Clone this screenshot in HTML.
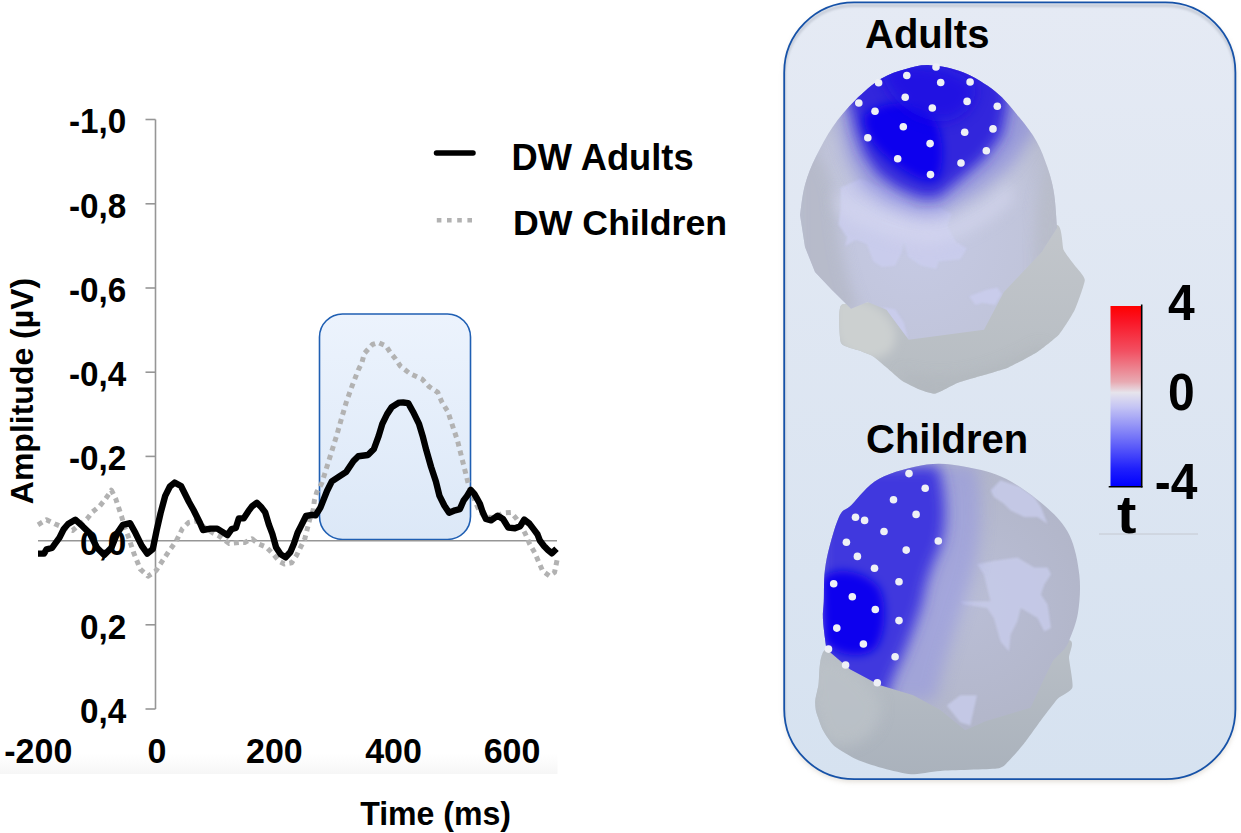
<!DOCTYPE html>
<html><head><meta charset="utf-8"><title>ERP figure</title>
<style>html,body{margin:0;padding:0;background:#fff;}body{width:1241px;height:833px;overflow:hidden;}svg{display:block;}</style>
</head><body>
<svg width="1241" height="833" viewBox="0 0 1241 833">
<defs>
<linearGradient id="boxg" x1="0" y1="0" x2="0" y2="1"><stop offset="0" stop-color="#ecf3fd"/><stop offset="1" stop-color="#dce8f7"/></linearGradient>
<linearGradient id="panelg" x1="0" y1="0" x2="0" y2="1"><stop offset="0" stop-color="#e5eaf4"/><stop offset="1" stop-color="#d6e2f0"/></linearGradient>
<linearGradient id="cbar" x1="0" y1="0" x2="0" y2="1">
<stop offset="0" stop-color="#ff0000"/><stop offset="0.08" stop-color="#fa1424"/><stop offset="0.25" stop-color="#f25062"/><stop offset="0.42" stop-color="#e8aab2"/><stop offset="0.48" stop-color="#e6e4ec"/><stop offset="0.56" stop-color="#c4c4f4"/><stop offset="0.72" stop-color="#7878f8"/><stop offset="0.9" stop-color="#2020fc"/><stop offset="1" stop-color="#0000ff"/></linearGradient>
<linearGradient id="xband" x1="0" y1="0" x2="0" y2="1"><stop offset="0" stop-color="#ffffff"/><stop offset="1" stop-color="#f6f6f6"/></linearGradient>
<filter id="blur6" x="-30%" y="-30%" width="160%" height="160%"><feGaussianBlur stdDeviation="7"/></filter>
<filter id="blur5" x="-30%" y="-30%" width="160%" height="160%"><feGaussianBlur stdDeviation="5"/></filter>
<filter id="blur7" x="-30%" y="-30%" width="160%" height="160%"><feGaussianBlur stdDeviation="8"/></filter>
<filter id="blur1" x="-30%" y="-30%" width="160%" height="160%"><feGaussianBlur stdDeviation="1"/></filter>
<filter id="blur3" x="-30%" y="-30%" width="160%" height="160%"><feGaussianBlur stdDeviation="3"/></filter>
<filter id="shadow" x="-10%" y="-10%" width="120%" height="120%"><feGaussianBlur stdDeviation="2.5"/></filter>
<radialGradient id="capA" cx="0.45" cy="0.6" r="0.6"><stop offset="0" stop-color="#c6cae4"/><stop offset="0.7" stop-color="#c0c4da"/><stop offset="1" stop-color="#b6bacb"/></radialGradient>
<linearGradient id="neckA" x1="0" y1="0" x2="0" y2="1"><stop offset="0" stop-color="#c2c6cb"/><stop offset="1" stop-color="#b6bcc2"/></linearGradient>
<radialGradient id="capC" cx="0.55" cy="0.5" r="0.6"><stop offset="0" stop-color="#babed6"/><stop offset="1" stop-color="#b0b4c6"/></radialGradient>
<linearGradient id="neckC" x1="0" y1="0" x2="0" y2="1"><stop offset="0" stop-color="#b9bfc6"/><stop offset="1" stop-color="#aab2bc"/></linearGradient>
<clipPath id="capAclip"><path d="M800.0,215.0 C800.8,209.9 802.3,194.4 805.0,184.7 C807.7,175.0 811.3,166.3 816.0,156.6 C820.7,146.9 826.5,135.8 833.0,126.4 C839.5,117.0 847.0,108.3 855.0,100.4 C863.0,92.5 872.5,84.0 881.0,78.8 C889.5,73.6 897.8,71.3 906.0,69.0 C914.2,66.7 920.5,64.7 930.0,65.2 C939.5,65.8 952.1,67.9 963.0,72.3 C973.9,76.7 986.2,84.2 995.6,91.7 C1005.0,99.2 1012.6,109.3 1019.4,117.6 C1026.2,125.9 1031.9,133.1 1036.6,141.4 C1041.3,149.7 1044.5,158.7 1047.4,167.3 C1050.3,175.9 1052.4,183.1 1054.0,193.2 C1055.6,203.3 1056.5,222.0 1057.0,227.8 L1041.6,252 L1003.9,292.1 L984,329.8 L908.6,339.7 L886.5,309.8 L867.6,302 L851,308.7 L832,290 L815,272 L805,247 Z"/></clipPath>
<clipPath id="capCclip"><path d="M826.4,649.0 C825.8,644.2 823.4,627.9 823.0,620.0 C822.6,612.1 823.3,611.0 823.8,601.6 C824.3,592.2 823.3,577.7 825.8,563.7 C828.3,549.7 834.5,527.4 838.8,517.6 C843.1,507.8 844.8,511.5 851.5,505.0 C858.2,498.5 866.7,485.6 879.2,478.8 C891.8,472.1 912.3,466.5 926.8,464.5 C941.3,462.5 953.2,464.5 966.4,466.9 C979.6,469.3 992.8,472.2 1006.0,478.8 C1019.2,485.4 1035.0,497.1 1045.6,506.5 C1056.2,515.9 1063.8,523.5 1069.4,535.0 C1075.0,546.5 1078.0,562.3 1079.4,575.3 C1080.8,588.2 1079.7,601.9 1078.0,612.7 C1076.3,623.5 1071.7,634.0 1069.4,640.0 C1067.2,646.0 1065.3,647.5 1064.5,649.0 L1053.2,660.3 L1044.2,678.4 L1030.6,707.7 L985.5,721.2 L965.2,730.3 L940.4,710 L913.3,695.3 L879.5,685 L850,669.3 Z"/></clipPath>
</defs>
<rect width="1241" height="833" fill="#ffffff"/>
<rect x="0" y="754" width="557.5" height="20" fill="url(#xband)"/>
<rect x="319.5" y="314" width="151" height="225.5" rx="23" ry="23" fill="url(#boxg)" stroke="#1f5fb3" stroke-width="1.6"/>
<line x1="38" y1="540.7" x2="557" y2="540.7" stroke="#969696" stroke-width="1.6"/>
<line x1="155.5" y1="119.5" x2="155.5" y2="709" stroke="#969696" stroke-width="1.6"/>
<line x1="145.5" y1="119.5" x2="155.5" y2="119.5" stroke="#969696" stroke-width="1.6"/>
<line x1="145.5" y1="203.8" x2="155.5" y2="203.8" stroke="#969696" stroke-width="1.6"/>
<line x1="145.5" y1="288" x2="155.5" y2="288" stroke="#969696" stroke-width="1.6"/>
<line x1="145.5" y1="372.2" x2="155.5" y2="372.2" stroke="#969696" stroke-width="1.6"/>
<line x1="145.5" y1="456.4" x2="155.5" y2="456.4" stroke="#969696" stroke-width="1.6"/>
<line x1="145.5" y1="540.6" x2="155.5" y2="540.6" stroke="#969696" stroke-width="1.6"/>
<line x1="145.5" y1="624.8" x2="155.5" y2="624.8" stroke="#969696" stroke-width="1.6"/>
<line x1="145.5" y1="709" x2="155.5" y2="709" stroke="#969696" stroke-width="1.6"/>
<polyline points="38.0,524.8 46.5,519.7 55.2,524.0 63.8,527.6 72.5,530.5 78.2,525.5 86.9,519.0 92.6,511.8 99.8,506.0 105.6,498.8 111.4,490.2 115.7,498.8 118.6,507.5 121.5,516.1 124.3,526.2 128.7,537.7 134.0,553.6 140.3,569.2 148.1,576.2 155.9,570.8 162.1,561.4 168.4,552.0 176.2,541.1 182.4,528.6 188.6,522.4 196.4,520.8 204.2,527.1 213.6,533.3 219.8,536.4 229.2,543.6 240.0,542.4 244.8,542.4 252.0,538.8 258.0,543.6 266.4,547.2 272.4,553.2 279.6,561.6 284.4,564.0 291.6,562.8 296.4,555.6 300.0,548.4 304.8,538.8 307.2,529.2 309.6,519.6 313.2,510.0 314.4,500.4 316.8,492.0 321.6,483.6 324.6,474.2 330.6,455.0 336.6,435.8 341.4,418.9 346.3,402.1 352.3,385.3 358.3,370.0 361.9,362.7 364.3,353.5 372.5,344.4 378.3,342.5 385.9,345.9 390.7,353.0 395.5,358.8 400.3,366.0 410.0,373.7 422.0,379.0 429.2,386.7 437.8,392.4 441.9,402.1 447.9,411.7 452.7,426.2 457.5,440.6 461.1,455.0 464.7,469.4 468.3,483.8 471.9,493.5 477.9,507.9 484.5,517.0 495.1,517.6 503.0,513.0 511.0,512.4 516.2,518.3 521.5,526.2 525.5,534.2 529.4,543.4 534.7,552.7 538.7,561.9 542.7,571.1 549.3,575.8 554.5,572.5 557.2,559.3" fill="none" stroke="#b2b2b2" stroke-width="5" stroke-dasharray="5 4.4" stroke-linejoin="round"/>
<polyline points="38.0,553.6 44.0,553.6 46.5,549.3 52.0,548.0 55.2,543.5 59.5,537.7 63.8,529.0 68.1,524.0 75.3,519.7 82.5,526.2 89.8,533.4 97.0,547.8 104.2,555.0 111.4,547.8 117.1,533.4 122.9,524.8 130.1,523.2 135.6,533.3 141.8,545.8 147.3,553.6 152.8,549.0 156.7,530.2 160.6,513.0 165.2,495.9 169.9,486.5 174.6,482.6 181.0,486.0 184.5,493.0 189.0,502.0 193.5,510.0 197.0,517.0 200.0,523.0 203.0,530.0 210.5,528.6 217.2,528.6 222.0,531.6 227.4,535.2 231.6,529.2 235.8,528.0 238.8,518.4 243.6,518.4 248.4,511.2 252.0,506.4 256.8,502.8 261.6,507.6 265.2,512.4 268.8,524.4 272.4,534.0 276.0,547.2 280.8,554.4 285.6,557.4 290.4,552.0 294.0,543.6 297.6,532.8 301.2,525.6 306.0,516.0 312.0,514.8 315.6,515.4 320.4,507.6 322.2,503.1 327.0,491.0 331.8,481.4 339.0,476.6 346.3,471.8 353.5,461.0 358.3,456.2 367.9,455.0 373.9,449.0 378.7,435.8 382.3,423.8 387.1,414.1 391.9,406.9 399.1,402.6 403.2,402.5 408.2,403.1 413.0,411.7 419.0,423.8 422.6,435.8 426.3,450.2 431.1,467.0 435.9,481.4 439.5,495.9 444.3,505.5 449.1,512.7 455.1,510.3 459.9,509.1 463.5,500.7 467.1,495.9 470.7,489.9 474.3,493.9 476.6,497.9 479.9,503.8 482.5,511.7 485.9,519.0 491.1,520.3 497.7,515.7 503.0,519.0 508.3,527.6 514.9,528.2 520.2,526.2 524.2,519.6 529.4,523.6 533.4,528.9 537.4,534.2 540.0,540.8 544.0,546.0 547.9,550.0 551.9,553.3 556.5,548.7" fill="none" stroke="#000" stroke-width="6.4" stroke-linejoin="round" stroke-linecap="butt"/>
<g font-family='"Liberation Sans", sans-serif' font-weight="bold" fill="#000">
<text transform="translate(126.3,133.4) scale(0.98,1.04)" font-size="34" text-anchor="end">-1,0</text>
<text transform="translate(126.3,217.70000000000002) scale(0.98,1.04)" font-size="34" text-anchor="end">-0,8</text>
<text transform="translate(126.3,301.9) scale(0.98,1.04)" font-size="34" text-anchor="end">-0,6</text>
<text transform="translate(126.3,386.09999999999997) scale(0.98,1.04)" font-size="34" text-anchor="end">-0,4</text>
<text transform="translate(126.3,470.29999999999995) scale(0.98,1.04)" font-size="34" text-anchor="end">-0,2</text>
<text transform="translate(126.3,554.5) scale(0.98,1.04)" font-size="34" text-anchor="end">0,0</text>
<text transform="translate(126.3,638.6999999999999) scale(0.98,1.04)" font-size="34" text-anchor="end">0,2</text>
<text transform="translate(126.3,722.9) scale(0.98,1.04)" font-size="34" text-anchor="end">0,4</text>
<text transform="translate(38.3,763.3) scale(1.0,1.04)" font-size="34" text-anchor="middle">-200</text>
<text transform="translate(157,763.3) scale(1.0,1.04)" font-size="34" text-anchor="middle">0</text>
<text transform="translate(274.4,763.3) scale(1.0,1.04)" font-size="34" text-anchor="middle">200</text>
<text transform="translate(393.5,763.3) scale(1.0,1.04)" font-size="34" text-anchor="middle">400</text>
<text transform="translate(512,763.3) scale(1.0,1.04)" font-size="34" text-anchor="middle">600</text>
<text transform="translate(435.6,824.7) scale(0.987,1.04)" font-size="32.5" text-anchor="middle">Time (ms)</text>
<text transform="translate(33.2,391) rotate(-90)" font-size="32" text-anchor="middle">Amplitude (µV)</text>
<text transform="translate(511.5,170) scale(1.0,1.0)" font-size="36.3" text-anchor="start">DW Adults</text>
<text transform="translate(513,235) scale(1.0,1.0)" font-size="35.7" text-anchor="start">DW Children</text>
</g>
<line x1="436.5" y1="153" x2="473" y2="153" stroke="#000" stroke-width="5.5" stroke-linecap="round"/>
<line x1="436.8" y1="220.3" x2="473" y2="220.3" stroke="#b2b2b2" stroke-width="4.6" stroke-dasharray="4.6 5.6"/>
<rect x="784.2" y="5" width="452" height="777" rx="70" ry="70" fill="#c8c0b4" opacity="0.5" filter="url(#shadow)"/>
<rect x="784.2" y="2.4" width="451.2" height="776.8" rx="70" ry="70" fill="url(#panelg)"/>
<clipPath id="panelclip"><rect x="784.2" y="2.4" width="451.2" height="776.8" rx="70" ry="70"/></clipPath>
<g clip-path="url(#panelclip)"><rect x="784.2" y="5.6" width="451.2" height="790" rx="70" ry="70" fill="none" stroke="#c6ccd8" stroke-width="3" filter="url(#blur1)"/></g>
<rect x="784.2" y="2.4" width="451.2" height="776.8" rx="70" ry="70" fill="none" stroke="#1652a8" stroke-width="1.8"/>
<path d="M841.0,305.4 C837.8,309.0 839.4,339.2 841.0,343.0 C842.6,346.8 857.3,349.7 860.0,350.8 C862.7,351.9 871.0,355.0 873.2,356.4 C875.4,357.8 884.1,365.4 886.5,367.4 C888.9,369.4 899.2,378.8 902.0,380.7 C904.8,382.6 916.9,388.5 919.7,389.6 C922.5,390.7 932.1,394.2 935.2,393.6 C938.3,393.1 953.7,384.4 957.4,383.0 C961.1,381.6 975.3,377.6 979.5,376.3 C983.7,375.0 1003.5,369.4 1008.3,367.4 C1013.1,365.4 1033.0,354.8 1037.2,352.0 C1041.5,349.2 1056.2,337.7 1059.3,334.2 C1062.4,330.7 1072.7,314.3 1074.8,309.8 C1076.9,305.3 1084.8,283.7 1084.8,280.0 C1084.8,276.3 1076.6,268.0 1074.8,265.5 C1073.0,263.0 1065.2,253.4 1063.7,250.0 C1062.2,246.6 1062.3,225.0 1057.0,225.0 C1051.7,225.0 1014.8,243.8 1000.0,250.0 C985.2,256.2 893.2,295.4 880.0,300.0 C866.8,304.6 844.2,301.8 841.0,305.4 Z" fill="url(#neckA)"/>
<clipPath id="neckAclip"><path d="M841.0,305.4 C837.8,309.0 839.4,339.2 841.0,343.0 C842.6,346.8 857.3,349.7 860.0,350.8 C862.7,351.9 871.0,355.0 873.2,356.4 C875.4,357.8 884.1,365.4 886.5,367.4 C888.9,369.4 899.2,378.8 902.0,380.7 C904.8,382.6 916.9,388.5 919.7,389.6 C922.5,390.7 932.1,394.2 935.2,393.6 C938.3,393.1 953.7,384.4 957.4,383.0 C961.1,381.6 975.3,377.6 979.5,376.3 C983.7,375.0 1003.5,369.4 1008.3,367.4 C1013.1,365.4 1033.0,354.8 1037.2,352.0 C1041.5,349.2 1056.2,337.7 1059.3,334.2 C1062.4,330.7 1072.7,314.3 1074.8,309.8 C1076.9,305.3 1084.8,283.7 1084.8,280.0 C1084.8,276.3 1076.6,268.0 1074.8,265.5 C1073.0,263.0 1065.2,253.4 1063.7,250.0 C1062.2,246.6 1062.3,225.0 1057.0,225.0 C1051.7,225.0 1014.8,243.8 1000.0,250.0 C985.2,256.2 893.2,295.4 880.0,300.0 C866.8,304.6 844.2,301.8 841.0,305.4 Z"/></clipPath>
<g clip-path="url(#neckAclip)">
<path d="M835,300 C860,295 885,305 895,330 C898,350 885,362 860,358 C840,352 835,340 835,320 Z" fill="#ccd0d0" filter="url(#blur5)"/>
<path d="M900,370 C940,385 990,375 1040,345 L1060,360 L920,410 Z" fill="#b0b6bc" opacity="0.6" filter="url(#blur6)"/>
</g>
<g clip-path="url(#capAclip)">
<rect x="790" y="55" width="280" height="300" fill="url(#capA)"/>
<path d="M795,150 C810,140 830,160 835,200 C838,240 845,280 860,310 L795,320 Z" fill="#b4b8c6" opacity="0.8" filter="url(#blur6)"/>
<path d="M1060,150 C1040,170 1030,220 1035,300 L1070,300 Z" fill="#b8bcc8" opacity="0.8" filter="url(#blur6)"/>
<polygon points="840.7,187.4 860.3,178.7 892.9,191.8 916.8,209.2 938.6,207 951.7,213.5 947.3,226.6 956,241.8 966.9,248.4 960.4,259.2 938.6,261.4 936.4,269 921.2,265.8 908.1,257.1 903.8,241.8 901.6,252.7 895.1,265.8 882,266.9 873.3,261.4 866.8,244 855.9,239.7 845,246.2 847.2,237.5 838.5,224.4 840.7,209.2" fill="#cacdee" opacity="0.85" filter="url(#blur1)"/>
<polygon points="969.1,296.3 986.5,289.7 997.4,287.5 1001.7,294.1 995.2,305 982.1,302.8 975.6,305" fill="#cacdee" opacity="0.85" filter="url(#blur1)"/>
<polygon points="882,307.1 895.1,309.3 903.8,322.4 908.1,338.7 897.3,326.7" fill="#cacdee" opacity="0.85" filter="url(#blur1)"/>
<path d="M835,190 C860,205 900,218 935,224 C960,218 990,200 1010,180 L1015,200 C990,225 960,240 930,245 C890,240 850,225 835,210 Z" fill="#d6d8f0" opacity="0.55" filter="url(#blur6)"/>
<path d="M835,60 L1030,60 L1035,130 L1012,165 L978,192 L940,214 L915,214 L885,202 L862,186 L848,160 L840,130 Z" fill="#8282dc" opacity="0.6" filter="url(#blur7)"/>
<path d="M848,55 L1005,55 L1008,105 L1002,135 L985,158 L962,178 L938,198 L920,198 L897,188 L878,174 L864,154 L856,132 L851,110 L845,90 Z" fill="#3228dc" filter="url(#blur6)"/>
<path d="M864,116 C878,102 905,98 928,110 C944,126 946,160 938,178 C925,186 905,172 888,158 C872,145 864,130 864,116 Z" fill="#0800ee" filter="url(#blur5)"/>
<path d="M880,68 C915,58 955,66 975,85 C978,105 962,120 940,122 C912,118 888,100 880,68 Z" fill="#1c10e4" opacity="0.75" filter="url(#blur6)"/>
</g>
<circle cx="906.8" cy="75.5" r="3.8" fill="#eef0f6"/>
<circle cx="940.7" cy="82.5" r="3.8" fill="#eef0f6"/>
<circle cx="905.2" cy="97.2" r="3.8" fill="#eef0f6"/>
<circle cx="858.8" cy="103" r="3.8" fill="#eef0f6"/>
<circle cx="875" cy="111.2" r="3.8" fill="#eef0f6"/>
<circle cx="932.3" cy="108" r="3.8" fill="#eef0f6"/>
<circle cx="903.3" cy="126.8" r="3.8" fill="#eef0f6"/>
<circle cx="867.8" cy="137.8" r="3.8" fill="#eef0f6"/>
<circle cx="930.1" cy="143.6" r="3.8" fill="#eef0f6"/>
<circle cx="897.7" cy="158.8" r="3.8" fill="#eef0f6"/>
<circle cx="930.5" cy="174.6" r="3.8" fill="#eef0f6"/>
<circle cx="878.6" cy="82.7" r="3.8" fill="#eef0f6"/>
<circle cx="936" cy="67" r="3.8" fill="#eef0f6"/>
<circle cx="970.1" cy="82" r="3.8" fill="#eef0f6"/>
<circle cx="967.1" cy="101.4" r="3.8" fill="#eef0f6"/>
<circle cx="997.3" cy="106.2" r="3.8" fill="#eef0f6"/>
<circle cx="964.7" cy="132.3" r="3.8" fill="#eef0f6"/>
<circle cx="993" cy="128.9" r="3.8" fill="#eef0f6"/>
<circle cx="986.3" cy="150.7" r="3.8" fill="#eef0f6"/>
<circle cx="961" cy="163" r="3.8" fill="#eef0f6"/>
<path d="M826.4,649.0 C818.2,651.5 819.6,679.8 818.5,685.0 C817.4,690.2 815.4,698.3 815.2,701.0 C815.0,703.7 815.5,709.3 816.3,712.2 C817.1,715.1 821.2,726.9 823.0,730.3 C824.8,733.7 830.9,743.1 834.3,746.0 C837.7,748.9 851.9,757.3 856.9,759.6 C861.9,761.9 878.6,767.1 884.0,768.6 C889.4,770.1 905.4,774.1 911.0,774.3 C916.6,774.5 931.8,771.5 940.4,770.9 C949.0,770.3 990.0,769.5 996.8,768.6 C1003.6,767.7 1005.3,764.3 1008.0,761.8 C1010.7,759.3 1020.5,748.1 1023.9,743.8 C1027.3,739.5 1038.5,723.5 1041.9,719.0 C1045.3,714.5 1054.7,701.9 1057.7,698.7 C1060.8,695.5 1071.3,691.5 1072.4,687.4 C1073.5,683.3 1069.3,662.7 1069.0,658.0 C1068.7,653.3 1075.9,640.8 1069.0,640.0 C1062.1,639.2 1016.9,648.0 1000.0,650.0 C983.1,652.0 917.4,660.1 900.0,660.0 C882.6,659.9 834.5,646.5 826.4,649.0 Z" fill="url(#neckC)"/>
<clipPath id="neckCclip"><path d="M826.4,649.0 C818.2,651.5 819.6,679.8 818.5,685.0 C817.4,690.2 815.4,698.3 815.2,701.0 C815.0,703.7 815.5,709.3 816.3,712.2 C817.1,715.1 821.2,726.9 823.0,730.3 C824.8,733.7 830.9,743.1 834.3,746.0 C837.7,748.9 851.9,757.3 856.9,759.6 C861.9,761.9 878.6,767.1 884.0,768.6 C889.4,770.1 905.4,774.1 911.0,774.3 C916.6,774.5 931.8,771.5 940.4,770.9 C949.0,770.3 990.0,769.5 996.8,768.6 C1003.6,767.7 1005.3,764.3 1008.0,761.8 C1010.7,759.3 1020.5,748.1 1023.9,743.8 C1027.3,739.5 1038.5,723.5 1041.9,719.0 C1045.3,714.5 1054.7,701.9 1057.7,698.7 C1060.8,695.5 1071.3,691.5 1072.4,687.4 C1073.5,683.3 1069.3,662.7 1069.0,658.0 C1068.7,653.3 1075.9,640.8 1069.0,640.0 C1062.1,639.2 1016.9,648.0 1000.0,650.0 C983.1,652.0 917.4,660.1 900.0,660.0 C882.6,659.9 834.5,646.5 826.4,649.0 Z"/></clipPath>
<g clip-path="url(#neckCclip)">
<path d="M812,660 C830,650 860,670 880,700 C885,730 860,750 830,745 C815,730 810,700 812,660 Z" fill="#bcc2c8" opacity="0.8" filter="url(#blur6)"/>
</g>
<g clip-path="url(#capCclip)">
<rect x="815" y="460" width="270" height="280" fill="url(#capC)"/>
<polygon points="977,564.2 993.8,560.8 1017.4,557.5 1034.2,567.6 1047.6,567.6 1051,574.3 1044.3,584.4 1040.9,594.5 1047.6,604.5 1051,628 1044.3,631.4 1037.5,618 1020.7,607.9 1017.4,621.3 1010.6,634.8 1009,651.6 1000.5,641.5 993.8,618 987.1,607.9 963.5,604.5 960.2,601.2 990.5,601.2 987.1,587.7 983.7,574.3" fill="#c6cae8" opacity="0.9" filter="url(#blur1)"/>
<polygon points="990.5,490.3 1000.5,480.2 1020.7,486.9 1034.2,497 1040.9,507 1047.6,523.9 1037.5,517.1 1024.1,517.1 1010.6,510.4 1003.9,503.7 993.8,497" fill="#c6cae8" opacity="0.9" filter="url(#blur1)"/>
<polygon points="946.7,705.4 960.2,695.3 977,695.3 970.3,725.5 960.2,722.2" fill="#c6cae8" opacity="0.9" filter="url(#blur1)"/>
<path d="M815,465 L975,465 C985,500 980,545 972,575 C960,615 945,655 935,700 L815,700 Z" fill="#9496e0" opacity="0.6" filter="url(#blur7)"/>
<path d="M820,468 L938,466 C948,500 946,530 940,548 C932,565 926,580 922,604 C915,625 908,644 902,658 C896,670 890,684 886,700 L820,700 Z" fill="#4038de" filter="url(#blur6)"/>
<path d="M822,578 C836,566 862,570 878,586 C888,602 886,632 876,648 C862,660 838,656 824,642 Z" fill="#0c06ee" filter="url(#blur5)"/>
</g>
<circle cx="909" cy="473.6" r="3.8" fill="#eef0f6"/>
<circle cx="925.2" cy="488.3" r="3.8" fill="#eef0f6"/>
<circle cx="893.5" cy="499.8" r="3.8" fill="#eef0f6"/>
<circle cx="916.1" cy="514.4" r="3.8" fill="#eef0f6"/>
<circle cx="855.5" cy="517.2" r="3.8" fill="#eef0f6"/>
<circle cx="864.6" cy="520.4" r="3.8" fill="#eef0f6"/>
<circle cx="884" cy="531.5" r="3.8" fill="#eef0f6"/>
<circle cx="938.3" cy="541" r="3.8" fill="#eef0f6"/>
<circle cx="846.4" cy="542.2" r="3.8" fill="#eef0f6"/>
<circle cx="906.2" cy="550.1" r="3.8" fill="#eef0f6"/>
<circle cx="857.4" cy="556.4" r="3.8" fill="#eef0f6"/>
<circle cx="874.5" cy="568.3" r="3.8" fill="#eef0f6"/>
<circle cx="899" cy="581.8" r="3.8" fill="#eef0f6"/>
<circle cx="833.7" cy="583.8" r="3.8" fill="#eef0f6"/>
<circle cx="852.3" cy="596.8" r="3.8" fill="#eef0f6"/>
<circle cx="875.3" cy="609.5" r="3.8" fill="#eef0f6"/>
<circle cx="899" cy="620.6" r="3.8" fill="#eef0f6"/>
<circle cx="836.8" cy="628.1" r="3.8" fill="#eef0f6"/>
<circle cx="863.4" cy="644" r="3.8" fill="#eef0f6"/>
<circle cx="895.1" cy="656.7" r="3.8" fill="#eef0f6"/>
<circle cx="828.5" cy="649.1" r="3.8" fill="#eef0f6"/>
<circle cx="845.6" cy="665" r="3.8" fill="#eef0f6"/>
<circle cx="877.3" cy="682.8" r="3.8" fill="#eef0f6"/>
<rect x="1110.5" y="306" width="31" height="180.5" fill="url(#cbar)"/>
<line x1="1141.7" y1="304.5" x2="1141.7" y2="487.5" stroke="#000" stroke-width="1.6"/>
<line x1="1108.7" y1="486.8" x2="1142.5" y2="486.8" stroke="#000" stroke-width="1.6"/>
<line x1="1099" y1="534" x2="1198" y2="534" stroke="#c4c8d0" stroke-width="1"/>
<g font-family='"Liberation Sans", sans-serif' font-weight="bold" fill="#000">
<text x="865" y="48.3" font-size="40">Adults</text>
<text x="866" y="453.4" font-size="40">Children</text>
<text transform="translate(1181.3,319.7) scale(1.0,1.05)" font-size="48" text-anchor="middle">4</text>
<text transform="translate(1181.3,410) scale(1.0,1.07)" font-size="48" text-anchor="middle">0</text>
<text transform="translate(1176,498.7) scale(1.0,1.04)" font-size="48" text-anchor="middle">-4</text>
<text transform="translate(1126.6,533.2) scale(1.12,1.04)" font-size="52" text-anchor="middle">t</text>
</g>
</svg>
</body></html>
